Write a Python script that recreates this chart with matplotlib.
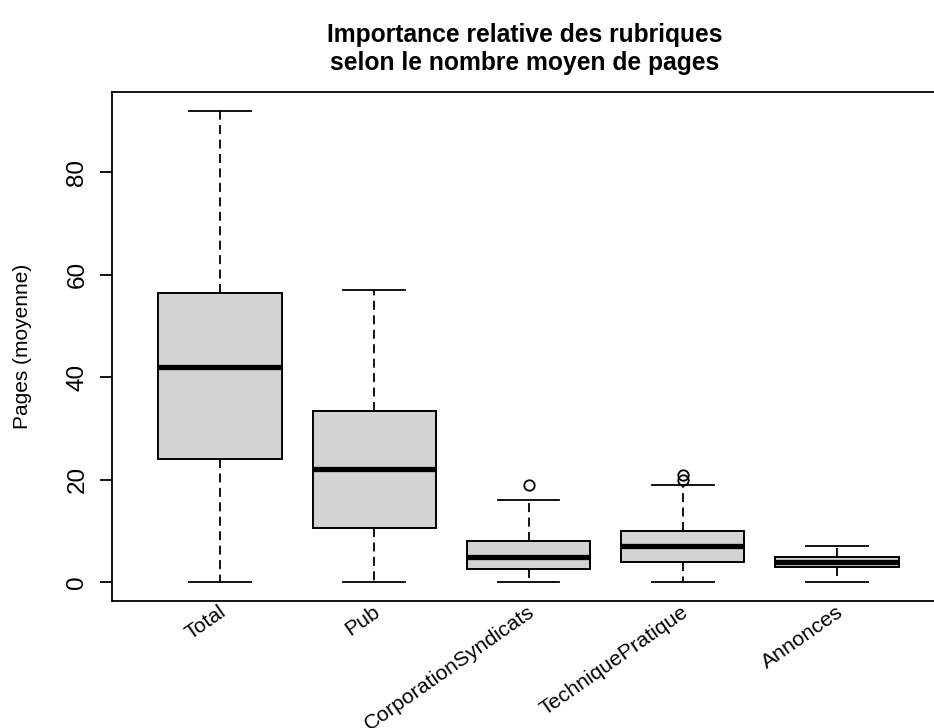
import matplotlib
matplotlib.use('Agg')
import matplotlib.pyplot as plt
from matplotlib.transforms import blended_transform_factory, offset_copy

# ---- data ----
categories = ['Total', 'Pub', 'CorporationSyndicats', 'TechniquePratique', 'Annonces']
whisker_low = [0, 0, 0, 0, 0]
q1 = [24, 10.5, 2.5, 4, 3]
median = [42, 22, 5, 7, 4]
q3 = [56.5, 33.5, 8, 10, 5]
whisker_high = [92, 57, 16, 19, 7]
outliers = [[], [], [19], [20, 21], []]
yticks = [0, 20, 40, 60, 80]

title_lines = ["Importance relative des rubriques", "selon le nombre moyen de pages"]
ylabel = "Pages (moyenne)"

plt.rcParams['font.family'] = ['Liberation Sans', 'DejaVu Sans']

W, H = 934, 728
fig = plt.figure(figsize=(W / 100, H / 100), dpi=100)
ax = fig.add_axes([112 / W, (H - 601) / H, (945 - 112) / W, (601 - 92) / H])

stats = []
for c, lo, a, m, b, hi, f in zip(categories, whisker_low, q1, median, q3, whisker_high, outliers):
    stats.append(dict(label=c, whislo=lo, q1=a, med=m, q3=b, whishi=hi, fliers=f))

positions = list(range(1, len(categories) + 1))
ax.bxp(stats, positions=positions, widths=0.8, capwidths=0.4, patch_artist=True,
       boxprops=dict(facecolor='#d3d3d3', edgecolor='black', linewidth=1.4),
       medianprops=dict(color='black', linewidth=3.8, solid_capstyle='butt'),
       whiskerprops=dict(color='black', linewidth=1.3, linestyle=(0, (5, 3))),
       capprops=dict(color='black', linewidth=1.3),
       flierprops=dict(marker='o', markerfacecolor='none', markeredgecolor='black',
                       markersize=7.5, markeredgewidth=1.3))

ax.set_xlim(0.3, 5.7)
ax.set_ylim(-3.68, 95.68)
ax.set_xticks([])
ax.set_yticks(yticks)
ax.set_yticklabels([str(t) for t in yticks], rotation=90, va='center', ha='right')
ax.tick_params(axis='y', length=9, width=1.3, labelsize=17.5, pad=8)
for s in ['left', 'top', 'bottom']:
    ax.spines[s].set_linewidth(1.3)
ax.spines['right'].set_visible(False)

trans = offset_copy(blended_transform_factory(ax.transData, ax.transAxes),
                    fig=fig, x=4, y=-9, units='dots')
for p, c in zip(positions, categories):
    ax.text(p, 0, c, transform=trans, ha='right', va='center', rotation=35,
            rotation_mode='anchor', fontsize=15.3, clip_on=False)

fig.text(23 / W, 1 - 346 / H, ylabel, rotation=90, ha='center', va='center', fontsize=15)
for i, line in enumerate(title_lines):
    fig.text(525 / W, 1 - (42 + 28 * i) / H, line, ha='center', va='baseline',
             fontsize=17.7, fontweight='bold')

fig.savefig('out.png', dpi=100)
